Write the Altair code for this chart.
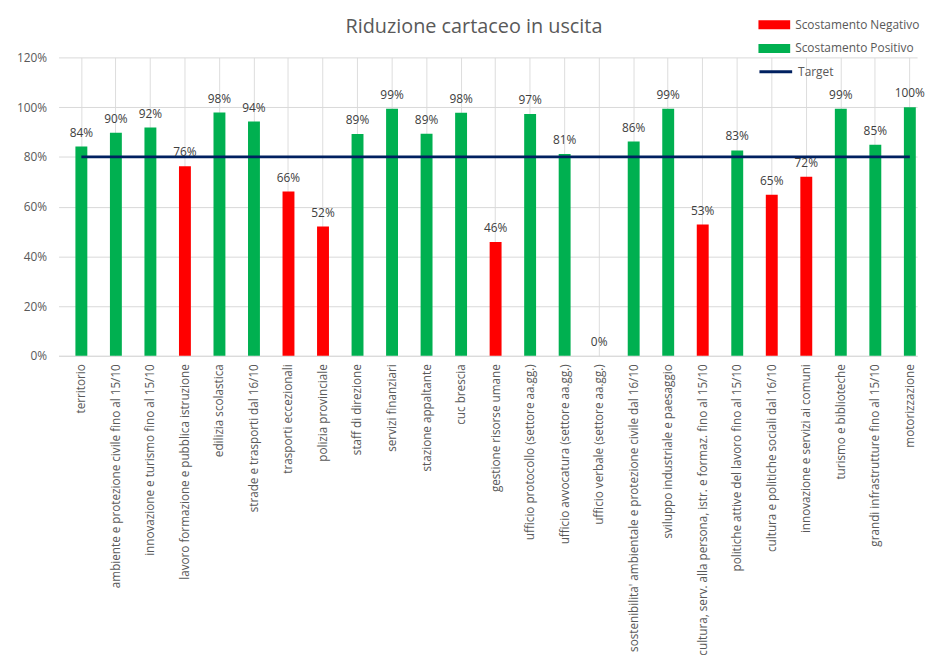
import altair as alt
import pandas as pd

categorie = [
    "territorio",
    "ambiente e protezione civile fino al 15/10",
    "innovazione e turismo fino al 15/10",
    "lavoro formazione e pubblica istruzione",
    "edilizia scolastica",
    "strade e trasporti dal 16/10",
    "trasporti eccezionali",
    "polizia provinciale",
    "staff di direzione",
    "servizi finanziari",
    "stazione appaltante",
    "cuc brescia",
    "gestione risorse umane",
    "ufficio protocollo (settore aa.gg.)",
    "ufficio avvocatura (settore aa.gg.)",
    "ufficio verbale (settore aa.gg.)",
    "sostenibilita' ambientale e protezione civile dal 16/10",
    "sviluppo industriale e paesaggio",
    "cultura, serv. alla persona, istr. e formaz. fino al 15/10",
    "politiche attive del lavoro fino al 15/10",
    "cultura e politiche sociali dal 16/10",
    "innovazione e servizi ai comuni",
    "turismo e biblioteche",
    "grandi infrastrutture fino al 15/10",
    "motorizzazione",
]
valori = [0.842, 0.897, 0.918, 0.762, 0.978, 0.942, 0.661, 0.52, 0.892, 0.994,
          0.893, 0.977, 0.458, 0.972, 0.812, 0.0, 0.862, 0.994, 0.528, 0.826,
          0.648, 0.72, 0.994, 0.849, 1.0]
target = [0.8] * len(categorie)
serie = ["Scostamento Negativo", "Scostamento Positivo"]
colori = ["#FF0000", "#00B050"]
colore_target = "#002060"

df = pd.DataFrame({
    "categoria": categorie,
    "valore": valori,
    "target": target,
})
df["esito"] = [serie[1] if v >= t else serie[0] for v, t in zip(valori, target)]
df["linea"] = "Target"

FONT = "Open Sans"
TXT = "#595959"

x = alt.X("categoria:N", sort=None, title=None,
          scale=alt.Scale(paddingInner=0.655, paddingOuter=0.2625, align=0.93),
          axis=alt.Axis(labelAngle=-90, labelLimit=400, ticks=False,
                        domainColor="#D9D9D9", labelColor=TXT, labelFont=FONT,
                        labelFontSize=11.8, labelPadding=8))

base = alt.Chart(df).encode(x=x)

bars = base.mark_bar().encode(
    y=alt.Y("valore:Q", title=None,
            scale=alt.Scale(domain=[0, 1.2], nice=False),
            axis=alt.Axis(format=".0%", values=[0, 0.2, 0.4, 0.6, 0.8, 1.0, 1.2],
                          domain=False, ticks=False, gridColor="#D9D9D9",
                          labelColor=TXT, labelFont=FONT, labelFontSize=12,
                          labelPadding=12)),
    color=alt.Color("esito:N", title=None,
                    scale=alt.Scale(domain=serie, range=colori),
                    legend=alt.Legend(orient="none", legendX=712, legendY=-43,
                                      padding=0,
                                      symbolType="M-1.6,-0.45H1.6V0.45H-1.6Z",
                                      symbolSize=400, symbolStrokeWidth=0,
                                      labelFont=FONT, labelFontSize=12,
                                      labelColor=TXT, rowPadding=8,
                                      labelOffset=11)),
)

labels = base.mark_text(dy=-14, font=FONT, fontSize=12, color="#404040").encode(
    y="valore:Q",
    text=alt.Text("valore:Q", format=".0%"),
)

line = base.mark_line(strokeWidth=3).encode(
    y="target:Q",
    stroke=alt.Stroke("linea:N", title=None,
                      scale=alt.Scale(domain=["Target"], range=[colore_target]),
                      legend=alt.Legend(orient="none", legendX=712, legendY=3,
                                        padding=0,
                                        symbolType="M-1.65,0H1.65",
                                        symbolStrokeWidth=3, symbolSize=400,
                                        labelFont=FONT, labelFontSize=12,
                                        labelColor=TXT, labelOffset=11)),
)

chart = alt.layer(bars, line, labels).resolve_legend(
    color="independent", stroke="independent"
).properties(
    width=866, height=301,
    title=alt.TitleParams("Riduzione cartaceo in uscita", font=FONT, fontSize=20,
                          fontWeight="normal", color=TXT, anchor="middle",
                          offset=-22, dx=-14),
    padding={"left": 8, "top": 4, "right": 0, "bottom": 0},
).configure_view(stroke=None).configure_axis(grid=True)

chart.save("out.html", embed_options={"renderer": "svg", "actions": False})
